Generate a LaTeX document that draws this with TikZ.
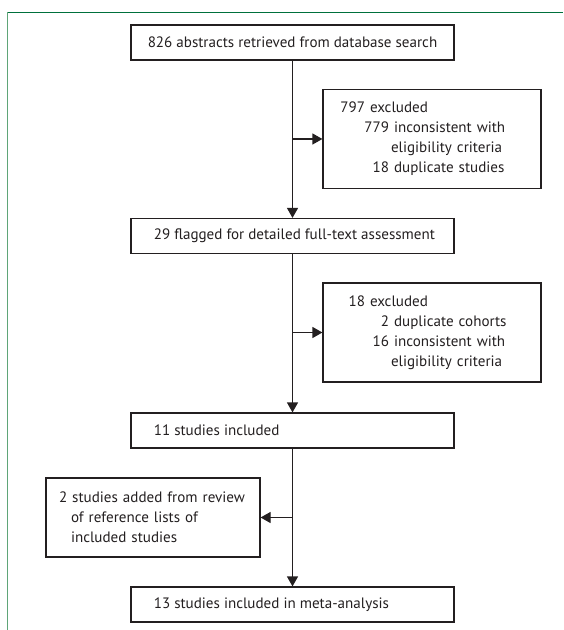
\documentclass[tikz,border=0pt]{standalone}
\usepackage{fontspec}
\setmainfont{PT Sans}
\usetikzlibrary{arrows.meta}

\definecolor{inkgray}{RGB}{35,31,32}
\definecolor{framegreen}{RGB}{0,112,60}
\definecolor{sidegreen}{RGB}{95,165,120}

\newcommand{\headline}[2]{\makebox[31.5pt][r]{#1}~#2}
\newcommand{\subline}[2]{\makebox[49.5pt][r]{#1}~#2}
\newcommand{\contline}[1]{\hspace*{51pt}#1}
\newcommand{\boxtext}[1]{\makebox[208pt][l]{#1}}

\tikzset{every picture/.style={line width=0.75pt}}
\tikzset{
  mainbox/.style={draw=inkgray, line width=0.9pt, minimum width=242.25pt, minimum height=26.25pt, inner sep=0pt},
  sidebox/.style={draw=inkgray, line width=0.9pt, text width=163.5pt, minimum height=74.25pt, inner sep=0pt, align=left},
  flow/.style={draw=inkgray, line width=0.9pt, -{Triangle[length=7.5pt,width=8.25pt]}}
}

\begin{document}
\begin{tikzpicture}[x=0.75pt,y=0.75pt,yscale=-1,xscale=1, font=\fontsize{11.3}{15}\selectfont, text=inkgray]
\useasboundingbox (0,0) rectangle (563,630);

%Straight Lines: frame
\draw [color=framegreen, line width=1pt] (7.5,12.5) -- (563,12.5);
\draw [color=sidegreen, line width=1.4pt] (7.5,12.5) -- (7.5,630);

%Shape: Rectangle [search]
\node [mainbox] (search) at (292.5,42.5) {826 abstracts retrieved from database search};
%Shape: Rectangle [excl1]
\node [sidebox] (excl1) at (432,139) {\headline{797}{excluded}\\ \subline{779}{inconsistent with}\\ \contline{eligibility criteria}\\ \subline{18}{duplicate studies}};
%Shape: Rectangle [flagged]
\node [mainbox] (flagged) at (292.5,236) {\boxtext{29 flagged for detailed full-text assessment}};
%Shape: Rectangle [excl2]
\node [sidebox] (excl2) at (432,332.5) {\headline{18}{excluded}\\ \subline{2}{duplicate cohorts}\\ \subline{16}{inconsistent with}\\ \contline{eligibility criteria}};
%Shape: Rectangle [included]
\node [mainbox] (included) at (292.5,430.5) {\boxtext{11 studies included}};
%Shape: Rectangle [added]
\node [sidebox, text width=160.5pt, minimum height=59.25pt] (added) at (153,517.5) {\hspace*{9.75pt}2 studies added from review\\ \hspace*{18.75pt}of reference lists of\\ \hspace*{18.75pt}included studies};
%Shape: Rectangle [meta]
\node [mainbox] (meta) at (292.5,604.5) {\boxtext{13 studies included in meta-analysis}};

%Straight Lines
\draw [flow] (search.south) -- (flagged.north);
\draw [flow] (search.south |- excl1.west) -- (excl1.west);
\draw [flow] (flagged.south) -- (included.north);
\draw [flow] (flagged.south |- excl2.west) -- (excl2.west);
\draw [flow] (included.south) -- (meta.north);
\draw [flow] (included.south |- added.east) -- (added.east);

\end{tikzpicture}
\end{document}
